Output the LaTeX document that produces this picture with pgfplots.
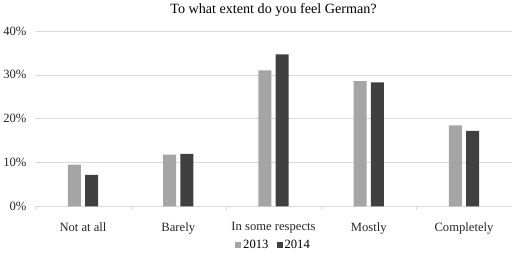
\documentclass[border=0pt]{standalone}
\usepackage{pgfplots}
\pgfplotsset{compat=1.18}
\usepackage{fontspec}
\setmainfont{Liberation Serif}
\definecolor{c13}{HTML}{A5A5A5}
\definecolor{c14}{HTML}{404040}
\definecolor{gridc}{HTML}{D9D9D9}
\begin{document}
\begin{tikzpicture}
\begin{axis}[
  scale only axis,
  width=470bp, height=173bp,
  ybar, bar width=13bp,
  ymin=0, ymax=40,
  ytick={0,10,20,30,40},
  yticklabel={\pgfmathprintnumber{\tick}\%},
  /pgf/number format/assume math mode=true,
  xmin=-0.5, xmax=4.5,
  xtick={0,1,2,3,4},
  xticklabels={Not at all,Barely,In some respects,Mostly,Completely},
  minor xtick={-0.5,0.5,1.5,2.5,3.5,4.5},
  major x tick style={draw=none},
  minor x tick style={draw=gridc},
  minor tick length=4bp,
  tick align=outside,
  ymajorgrids, grid style={gridc, line width=0.6pt},
  axis x line*=bottom, axis y line*=left,
  x axis line style={gridc, line width=0.8pt, -},
  y axis line style={draw=none},
  ytick style={draw=none},
  ticklabel style={font=\fontsize{12.5}{14}\selectfont, text=black!85},
  xticklabel style={yshift=-8bp},
  yticklabel style={xshift=-1bp},
  title={To what extent do you feel German?},
  title style={font=\fontsize{14}{16}\selectfont, yshift=5bp},
  legend style={at={(0.5,-0.17)}, anchor=north, draw=none, legend columns=2,
    font=\fontsize{12.5}{14}\selectfont, /tikz/every even column/.append style={column sep=6bp}},
  legend image code/.code={\fill[#1] (0bp,-3bp) rectangle (6bp,3bp);},
]
\addplot[fill=c13, draw=none, bar shift=-8.5bp] coordinates {(0,9.5) (1,11.8) (2,31.0) (3,28.6) (4,18.5)};
\addplot[fill=c14, draw=none, bar shift=8.5bp] coordinates {(0,7.2) (1,12.0) (2,34.7) (3,28.3) (4,17.2)};
\legend{2013,2014}
\end{axis}
\end{tikzpicture}
\end{document}
